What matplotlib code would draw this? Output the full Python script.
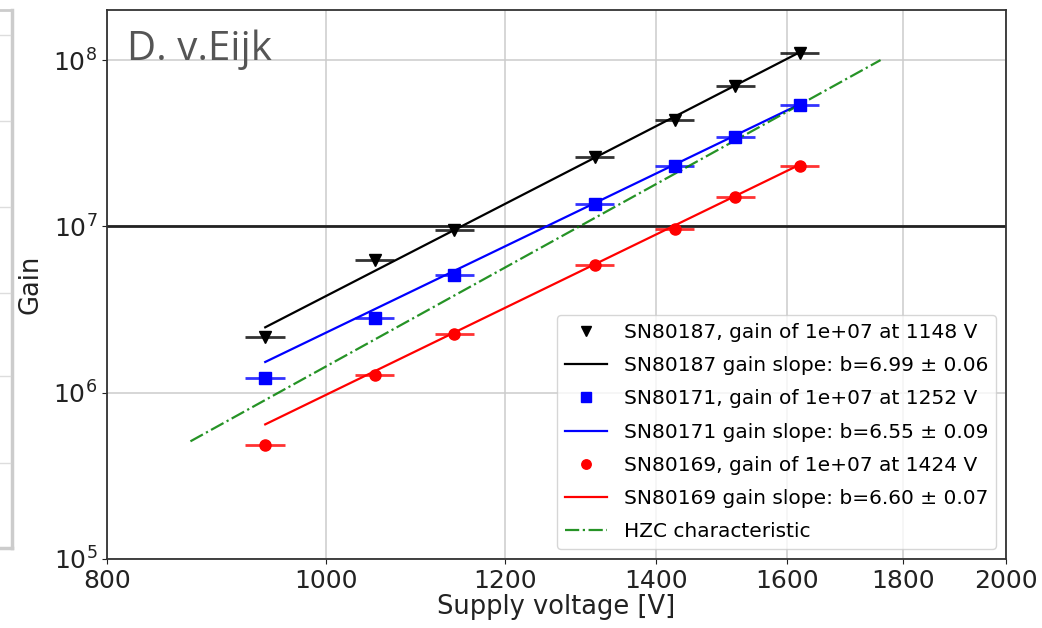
import numpy as np
import matplotlib
matplotlib.use("Agg")
import matplotlib.pyplot as plt
from matplotlib.lines import Line2D
from matplotlib.ticker import FixedLocator, NullLocator, FixedFormatter

# measured points (voltage in V, gain)
voltages = [940, 1051, 1140, 1315, 1427, 1518, 1621]
gain_80187 = [2.15e6, 6.25e6, 9.45e6, 2.6e7, 4.35e7, 6.95e7, 1.11e8]
gain_80171 = [1.22e6, 2.8e6, 5.1e6, 1.37e7, 2.32e7, 3.47e7, 5.35e7]
gain_80169 = [4.85e5, 1.27e6, 2.24e6, 5.85e6, 9.6e6, 1.51e7, 2.32e7]
volt_err_rel = 0.02

# fit results: voltage at gain 1e7, slope b (+- err)
tubes = ["SN80187", "SN80171", "SN80169"]
v_at_1e7 = [1148, 1252, 1424]
slopes = [6.99, 6.55, 6.60]
slope_errs = [0.06, 0.09, 0.07]

# HZC characteristic end points
hzc_v = [871, 1760]
hzc_gain = [5.1e5, 1.0e8]

x_ticks = [800, 1000, 1200, 1400, 1600, 1800, 2000]

fig = plt.figure(figsize=(10.42, 6.28), dpi=100)
ax = fig.add_axes([107 / 1042, 69 / 628, 899 / 1042, 549 / 628])

colors = ["black", "blue", "red"]
markers = ["v", "s", "o"]
gains = [gain_80187, gain_80171, gain_80169]
v = np.array(voltages, dtype=float)

for name, g, c, m, v0, b, be in zip(tubes, gains, colors, markers,
                                    v_at_1e7, slopes, slope_errs):
    ax.errorbar(v, g, xerr=v * volt_err_rel, fmt="none", ecolor=c,
                elinewidth=2, alpha=0.8, zorder=3)
    ax.plot(v, g, linestyle="none", marker=m, color=c, markersize=8,
            label=f"{name}, gain of 1e+07 at {v0} V", zorder=4)
    vv = np.linspace(v.min(), v.max(), 50)
    ax.plot(vv, 1e7 * (vv / v0) ** b, color=c, linewidth=1.6,
            label=f"{name} gain slope: b={b:.2f} ± {be:.2f}", zorder=3)

ax.plot(hzc_v, hzc_gain, color="green", linestyle="-.", linewidth=1.6,
        alpha=0.85, label="HZC characteristic", zorder=3)

ax.axhline(1e7, color="#222222", linewidth=2, zorder=2)

ax.set_xscale("log")
ax.set_yscale("log")
ax.set_xlim(800, 2000)
ax.set_ylim(1e5, 2e8)
ax.xaxis.set_major_locator(FixedLocator(x_ticks))
ax.xaxis.set_major_formatter(FixedFormatter([str(t) for t in x_ticks]))
ax.xaxis.set_minor_locator(NullLocator())
ax.yaxis.set_major_locator(FixedLocator([1e5, 1e6, 1e7, 1e8]))
ax.yaxis.set_minor_locator(NullLocator())
ax.tick_params(labelsize=18, colors="#222222")
ax.grid(True, color="#cccccc", linewidth=1.1)
ax.set_axisbelow(True)
for s in ax.spines.values():
    s.set_color("#333333")
    s.set_linewidth(1.3)

ax.set_xlabel("Supply voltage [V]", fontsize=18.5, color="#222222", labelpad=1)
ax.set_ylabel("Gain", fontsize=18.5, color="#222222", labelpad=7)

ax.text(0.022, 0.909, "D. v.Eijk", transform=ax.transAxes, fontsize=29,
        family="Open Sans", color="#555555", va="baseline", ha="left")

ax.legend(loc="lower right", fontsize=14.5, labelspacing=0.7,
          handlelength=2.1, markerscale=0.85, framealpha=0.8)

# slide frame remnant on the left
H = 628
def fy(p):
    return (H - p) / H
frame_col = "#cccccc"
fig.add_artist(Line2D([0, 12 / 1042], [fy(10), fy(10)], color=frame_col, lw=2))
fig.add_artist(Line2D([12 / 1042, 12 / 1042], [fy(10), fy(548)], color=frame_col, lw=2.5))
fig.add_artist(Line2D([0, 12 / 1042], [fy(548), fy(548)], color=frame_col, lw=2.5))
for yy in [35, 121, 207, 293, 376, 463]:
    fig.add_artist(Line2D([0, 10 / 1042], [fy(yy), fy(yy)], color="#dddddd", lw=1))

fig.savefig("out.png", dpi=100)
